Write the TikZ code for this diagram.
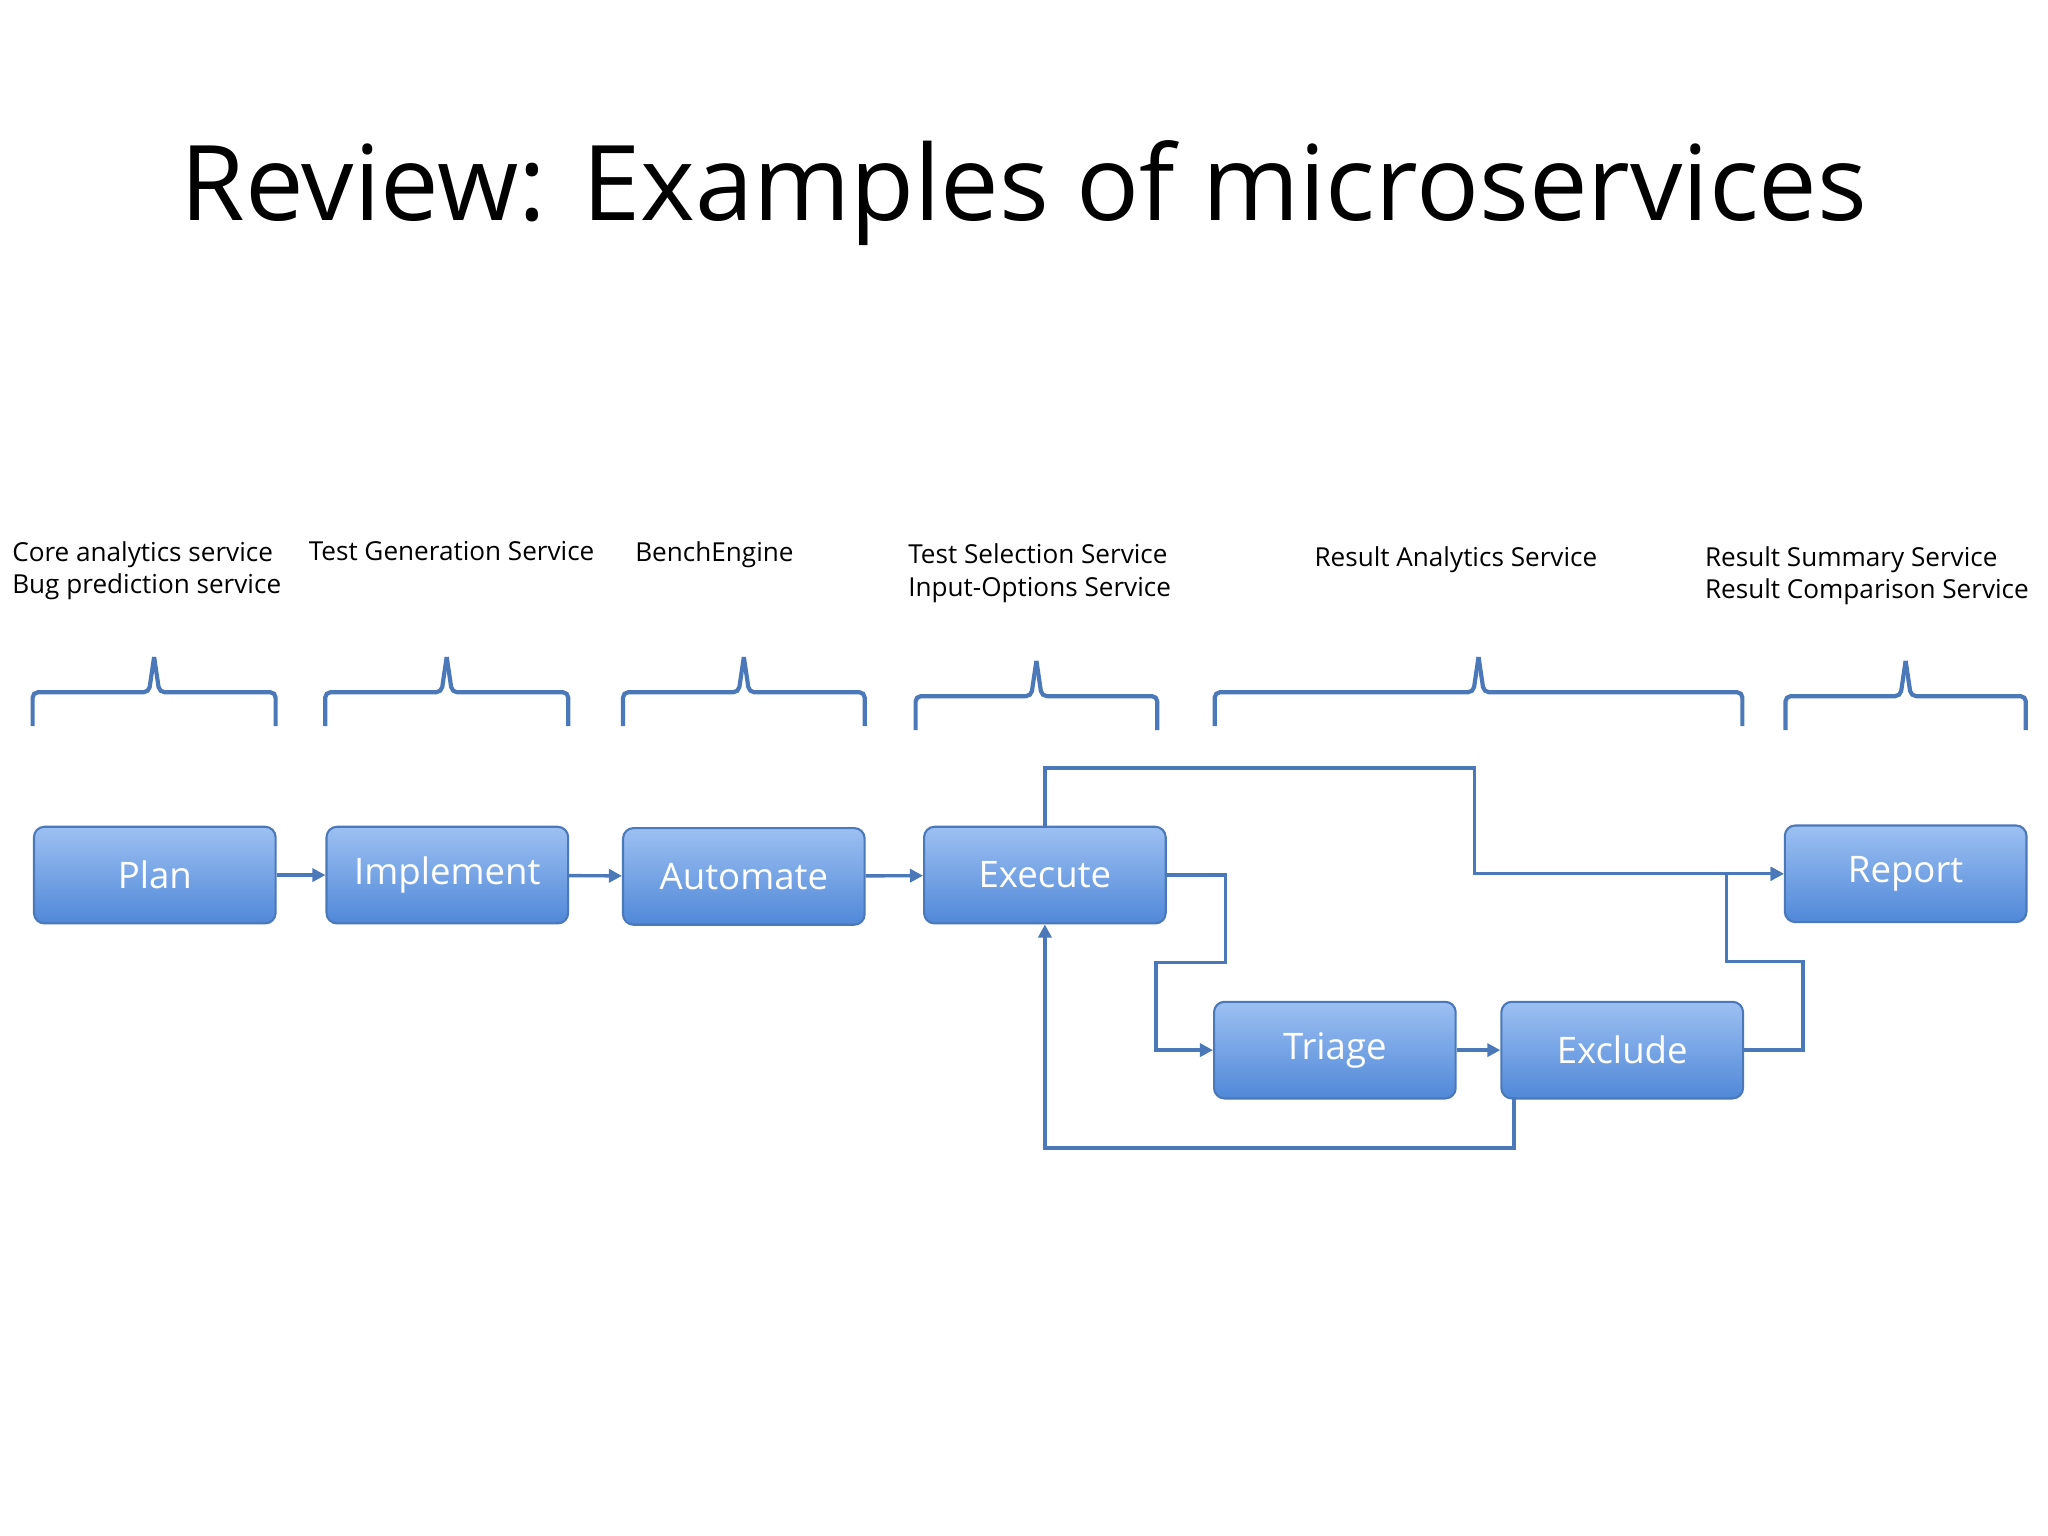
\documentclass[tikz,border=0pt]{standalone}
\usepackage{fontspec}
\setmainfont{Open Sans}
\usetikzlibrary{arrows.meta}
\definecolor{ln}{HTML}{4A78B8}
\definecolor{bt}{HTML}{9CC0F2}
\definecolor{bb}{HTML}{5088D8}
\begin{document}
\begin{tikzpicture}[x=0.5pt,y=-0.5pt,
 box/.style={draw=ln,line width=0.8pt,rounded corners=4pt,top color=bt,bottom color=bb,minimum width=92.5pt,minimum height=37pt,inner sep=0pt,text=white,font=\fontsize{14}{16}\selectfont},
 con/.style={draw=ln,line width=1.3pt,-{Triangle[length=5pt,width=5pt]}},
 br/.style={draw=ln,line width=1.6pt,rounded corners=2pt},
 lab/.style={anchor=north west,inner sep=0pt,align=left,font=\fontsize{10}{12.5}\selectfont}]
\useasboundingbox (0,0) rectangle (1568,1176);
\node[font=\fontsize{40}{44}\selectfont] (title) at (784,148) {Review: Examples of microservices};
\node[box] (plan) at (118.5,670) {Plan};
\node[box] (impl) at (342.5,670) {Implement};
\node[box] (auto) at (569.5,671) {Automate};
\node[box] (exec) at (800,670) {Execute};
\node[box] (rep) at (1459,669) {Report};
\node[box] (tri) at (1022,804) {Triage};
\node[box] (exc) at (1242,804) {Exclude};
\draw[con] (plan) -- (impl);
\draw[con] (impl) -- (auto);
\draw[con] (auto) -- (exec);
\draw[con] (exec.east) -- ++(45,0) |- (885,737) |- (tri.west);
\draw[con] (tri) -- (exc);
\draw[con] (exc.east) -- ++(45,0) |- (1322,736) |- (rep.west);
\draw[con] (exec.north) |- (1129,588) |- (rep.west);
\coordinate (eb) at (1159,840);
\draw[con] (eb) |- (800,879) -- (exec.south);
\foreach \a/\b/\y in {25/211/530,249/435/530,477/662/530,701/886/533,930/1334/530,1367/1551/533}{
 \draw[br] (\a,\y+26) -- (\a,\y) -- ({(\a+\b)/2-4},\y) -- ({(\a+\b)/2},\y-27);
 \draw[br] ({(\a+\b)/2},\y-27) -- ({(\a+\b)/2+4},\y) -- (\b,\y) -- (\b,\y+26);
}
\node[lab] (l1) at (9,414) {Core analytics service\\Bug prediction service};
\node[lab] (l2) at (236,414) {Test Generation Service};
\node[lab] (l3) at (486,414) {BenchEngine};
\node[lab] (l4) at (695,416) {Test Selection Service\\Input-Options Service};
\node[lab] (l5) at (1006,418) {Result Analytics Service};
\node[lab] (l6) at (1305,418) {Result Summary Service\\Result Comparison Service};
\end{tikzpicture}
\end{document}
